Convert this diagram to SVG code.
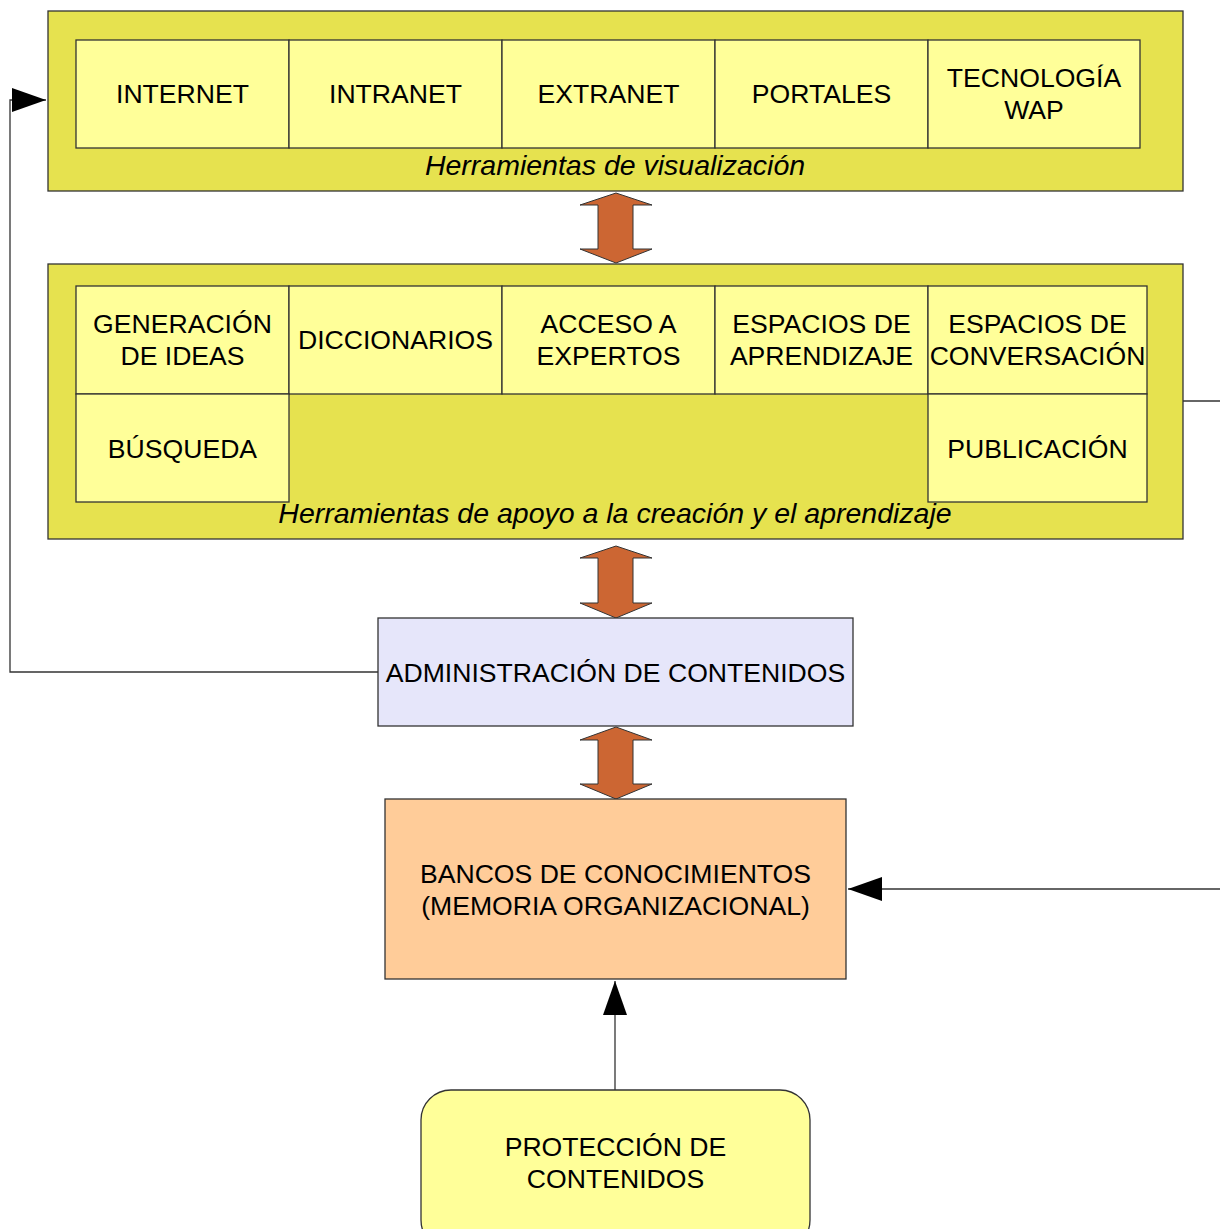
<svg xmlns="http://www.w3.org/2000/svg" width="1220" height="1229" viewBox="0 0 1220 1229">
<defs>
<style>
text{font-family:"Liberation Sans",Arial,sans-serif;font-size:26.6px;fill:#000;text-anchor:middle}
.lbl{font-style:italic;font-size:28.5px}
.panel{fill:#e6e24f;stroke:#333;stroke-width:1.3}
.cell{fill:#ffff99;stroke:#333;stroke-width:1.3}
.dbl{fill:#cc6633;stroke:#333;stroke-width:1}
.ln{fill:none;stroke:#333;stroke-width:1.3}
</style>
<marker id="ah" markerUnits="userSpaceOnUse" markerWidth="36" markerHeight="26" refX="34" refY="12" orient="auto">
<path d="M0,0 L34,12 L0,24 z" fill="#000"/>
</marker>
</defs>
<g id="connectors">
<polyline class="ln" points="378,672 10,672 10,100 46,100" marker-end="url(#ah)"/>
<line class="ln" x1="1183" y1="401" x2="1220" y2="401"/>
<line class="ln" x1="1220" y1="889" x2="848" y2="889" marker-end="url(#ah)"/>
<line class="ln" x1="615" y1="1090" x2="615" y2="981" marker-end="url(#ah)"/>
<path class="dbl" d="M616,193 L652,205 L633,205 L633,249 L652,249 L616,263 L580,249 L598,249 L598,205 L580,205 z"/>
<path class="dbl" d="M616,546 L652,558 L633,558 L633,603 L652,603 L616,618 L580,603 L598,603 L598,558 L580,558 z"/>
<path class="dbl" d="M616,727 L652,740 L633,740 L633,784 L652,784 L616,799 L580,784 L598,784 L598,740 L580,740 z"/>
</g>
<g id="visualizacion">
<rect class="panel" x="48" y="11" width="1135" height="180"/>
<text class="lbl" x="615" y="175">Herramientas de visualización</text>
</g>
<g id="internet"><rect class="cell" x="76" y="40" width="213" height="108"/><text x="182.5" y="103">INTERNET</text></g>
<g id="intranet"><rect class="cell" x="289" y="40" width="213" height="108"/><text x="395.5" y="103">INTRANET</text></g>
<g id="extranet"><rect class="cell" x="502" y="40" width="213" height="108"/><text x="608.5" y="103">EXTRANET</text></g>
<g id="portales"><rect class="cell" x="715" y="40" width="213" height="108"/><text x="821.5" y="103">PORTALES</text></g>
<g id="wap"><rect class="cell" x="928" y="40" width="212" height="108"/><text x="1034" y="87">TECNOLOGÍA</text><text x="1034" y="119">WAP</text></g>
<g id="apoyo">
<rect class="panel" x="48" y="264" width="1135" height="275"/>
<text class="lbl" x="615" y="523">Herramientas de apoyo a la creación y el aprendizaje</text>
</g>
<g id="generacion"><rect class="cell" x="76" y="286" width="213" height="108"/><text x="182.5" y="333">GENERACIÓN</text><text x="182.5" y="365">DE IDEAS</text></g>
<g id="diccionarios"><rect class="cell" x="289" y="286" width="213" height="108"/><text x="395.5" y="349">DICCIONARIOS</text></g>
<g id="expertos"><rect class="cell" x="502" y="286" width="213" height="108"/><text x="608.5" y="333">ACCESO A</text><text x="608.5" y="365">EXPERTOS</text></g>
<g id="aprendizaje"><rect class="cell" x="715" y="286" width="213" height="108"/><text x="821.5" y="333">ESPACIOS DE</text><text x="821.5" y="365">APRENDIZAJE</text></g>
<g id="conversacion"><rect class="cell" x="928" y="286" width="219" height="108"/><text x="1037.5" y="333">ESPACIOS DE</text><text x="1037.5" y="365">CONVERSACIÓN</text></g>
<g id="busqueda"><rect class="cell" x="76" y="394" width="213" height="108"/><text x="182.5" y="458">BÚSQUEDA</text></g>
<g id="publicacion"><rect class="cell" x="928" y="394" width="219" height="108"/><text x="1037.5" y="458">PUBLICACIÓN</text></g>
<g id="administracion"><rect x="378" y="618" width="475" height="108" fill="#e6e6fa" stroke="#333" stroke-width="1.3"/><text x="615.5" y="682">ADMINISTRACIÓN DE CONTENIDOS</text></g>
<g id="bancos"><rect x="385" y="799" width="461" height="180" fill="#ffcc99" stroke="#333" stroke-width="1.3"/><text x="615.5" y="883">BANCOS DE CONOCIMIENTOS</text><text x="615.5" y="915">(MEMORIA ORGANIZACIONAL)</text></g>
<g id="proteccion"><rect x="421" y="1090" width="389" height="160" rx="30" ry="30" fill="#ffff99" stroke="#333" stroke-width="1.3"/><text x="615.5" y="1156">PROTECCIÓN DE</text><text x="615.5" y="1188">CONTENIDOS</text></g>
</svg>
